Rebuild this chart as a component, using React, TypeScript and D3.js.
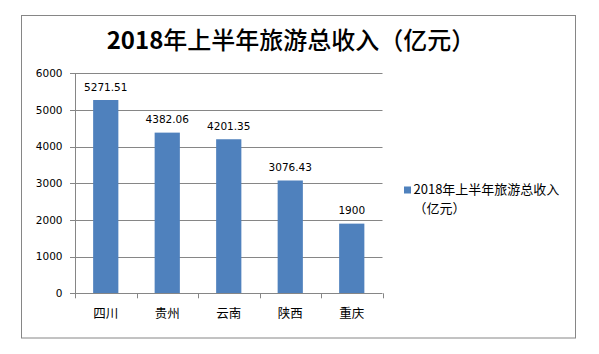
import React, { useEffect, useRef } from 'react'
import * as d3 from 'd3'

const title = '2018年上半年旅游总收入（亿元）'
const categories = ['四川', '贵州', '云南', '陕西', '重庆']
const values = [5271.51, 4382.06, 4201.35, 3076.43, 1900]
const valueLabels = ['5271.51', '4382.06', '4201.35', '3076.43', '1900']
const yTicks = [0, 1000, 2000, 3000, 4000, 5000, 6000]
const legendLines = ['2018年上半年旅游总收入', '（亿元）']

const W = 599
const H = 354
const plot = { left: 75, right: 382.5, top: 73.3, bottom: 293.3 }
const barColor = '#4F81BD'
const lineColor = '#868686'
const cjk = '"Noto Sans CJK SC", sans-serif'
const num = '"DejaVu Sans", sans-serif'

export default function App() {
    const ref = useRef<SVGSVGElement>(null)

    useEffect(() => {
        const svg = d3.select(ref.current)
        svg.selectAll('*').remove()

        // 外框
        svg.append('rect')
            .attr('x', 21.5).attr('y', 15.5)
            .attr('width', 554).attr('height', 322.5)
            .attr('fill', '#fff')
            .attr('stroke', lineColor)

        // 标题
        const t = svg.append('text')
            .attr('x', 291).attr('y', 49)
            .attr('text-anchor', 'middle')
            .attr('font-family', cjk)
            .attr('font-size', 24)
            .attr('fill', '#000')
        t.append('tspan').attr('font-weight', 'bold').text(title.slice(0, 4))
        t.append('tspan').attr('font-weight', 500).text(title.slice(4))

        const x = d3.scaleBand<string>()
            .domain(categories)
            .range([plot.left, plot.right])
            .paddingInner(0.59)
            .paddingOuter(0.295)

        const y = d3.scaleLinear()
            .domain([0, 6000])
            .range([plot.bottom, plot.top])

        // 网格线
        svg.append('g').selectAll('line')
            .data(yTicks.filter(d => d > 0))
            .enter().append('line')
            .attr('x1', plot.left).attr('x2', plot.right)
            .attr('y1', d => Math.round(y(d)) + 0.5)
            .attr('y2', d => Math.round(y(d)) + 0.5)
            .attr('stroke', lineColor)

        // y轴
        const yAxis = svg.append('g')
        yAxis.append('line')
            .attr('x1', plot.left + 0.5).attr('x2', plot.left + 0.5)
            .attr('y1', plot.top).attr('y2', plot.bottom)
            .attr('stroke', lineColor)
        yAxis.selectAll('line.tick')
            .data(yTicks)
            .enter().append('line')
            .attr('class', 'tick')
            .attr('x1', plot.left - 5).attr('x2', plot.left)
            .attr('y1', d => Math.round(y(d)) + 0.5)
            .attr('y2', d => Math.round(y(d)) + 0.5)
            .attr('stroke', lineColor)
        yAxis.selectAll('text')
            .data(yTicks)
            .enter().append('text')
            .attr('x', 62.5)
            .attr('y', d => y(d) + 3.8)
            .attr('text-anchor', 'end')
            .attr('font-family', num)
            .attr('font-size', 10.5)
            .attr('fill', '#000')
            .text(d => d)

        // 柱子
        svg.append('g').selectAll('rect')
            .data(values)
            .enter().append('rect')
            .attr('x', (d, i) => x(categories[i])!)
            .attr('y', d => y(d))
            .attr('width', x.bandwidth())
            .attr('height', d => plot.bottom - y(d))
            .attr('fill', barColor)

        // 数值标签
        svg.append('g').selectAll('text')
            .data(values)
            .enter().append('text')
            .attr('x', (d, i) => x(categories[i])! + x.bandwidth() / 2)
            .attr('y', d => y(d) - 9.5)
            .attr('text-anchor', 'middle')
            .attr('font-family', num)
            .attr('font-size', 10.5)
            .attr('fill', '#000')
            .text((d, i) => valueLabels[i])

        // x轴
        const step = x.step()
        const xAxis = svg.append('g')
        xAxis.append('line')
            .attr('x1', plot.left).attr('x2', plot.right)
            .attr('y1', Math.round(plot.bottom) + 0.5).attr('y2', Math.round(plot.bottom) + 0.5)
            .attr('stroke', lineColor)
        xAxis.selectAll('line.tick')
            .data(d3.range(categories.length + 1))
            .enter().append('line')
            .attr('class', 'tick')
            .attr('x1', i => Math.round(plot.left + i * step) + 0.5)
            .attr('x2', i => Math.round(plot.left + i * step) + 0.5)
            .attr('y1', plot.bottom).attr('y2', plot.bottom + 5)
            .attr('stroke', lineColor)
        xAxis.selectAll('text')
            .data(categories)
            .enter().append('text')
            .attr('x', d => x(d)! + x.bandwidth() / 2)
            .attr('y', 317.5)
            .attr('text-anchor', 'middle')
            .attr('font-family', cjk)
            .attr('font-size', 12.5)
            .attr('fill', '#000')
            .text(d => d)

        // 图例
        const lg = svg.append('g')
        lg.append('rect')
            .attr('x', 404).attr('y', 186.5)
            .attr('width', 7).attr('height', 7)
            .attr('fill', barColor)
        lg.selectAll('text')
            .data(legendLines)
            .enter().append('text')
            .attr('x', 413.5)
            .attr('y', (d, i) => 194 + i * 19)
            .attr('font-family', cjk)
            .attr('font-size', 13)
            .attr('fill', '#000')
            .text(d => d)
    }, [])

    return (
        <svg ref={ref} width={W} height={H}
            style={{ position: 'absolute', left: 0, top: 0, background: '#fff' }} />
    )
}
